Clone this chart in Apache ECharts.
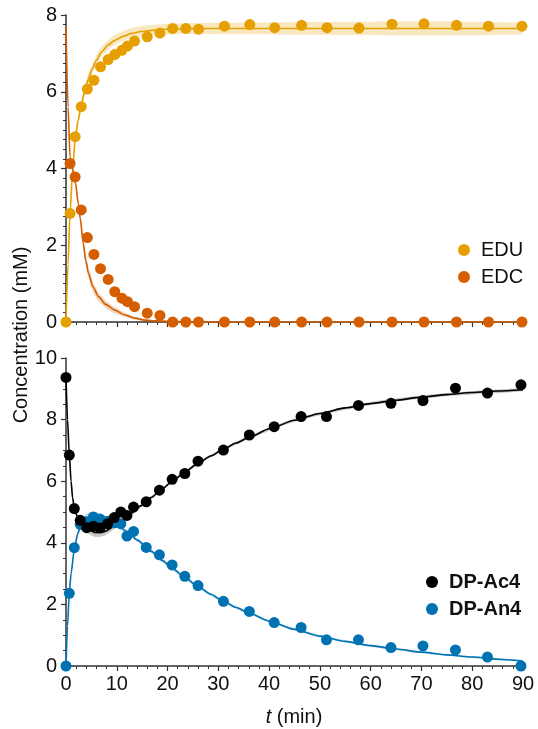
<!DOCTYPE html>
<html>
<head>
<meta charset="utf-8">
<script src="https://cdn.jsdelivr.net/npm/echarts@6/dist/echarts.min.js"></script>
<style>
  html, body { margin: 0; padding: 0; background: #fff; }
  #chart { width: 538px; height: 729px; }
</style>
</head>
<body>
<div id="chart"></div>
<script>
// top panel: EDU / EDC (min, mM)
var topTimes = [0, 0.8, 1.8, 3.0, 4.2, 5.5, 6.8, 8.3, 9.6, 11.0, 12.1, 13.5, 16.0, 18.5, 21.0, 23.6, 26.1, 31.2, 36.2, 41.1, 46.4, 51.4, 57.7, 64.2, 70.5, 76.9, 83.2, 89.8];
var eduVals = [0, 2.83, 4.83, 5.61, 6.07, 6.30, 6.65, 6.84, 6.97, 7.08, 7.19, 7.32, 7.43, 7.53, 7.65, 7.65, 7.63, 7.71, 7.75, 7.67, 7.73, 7.67, 7.66, 7.76, 7.77, 7.73, 7.71, 7.71];
var edcVals = [null, 4.13, 3.78, 2.92, 2.20, 1.76, 1.39, 1.11, 0.79, 0.62, 0.53, 0.40, 0.23, 0.17, 0, 0, 0, 0, 0, 0, 0, 0, 0, 0, 0, 0, 0, 0];
// fitted curves [t, c]
var eduFit = [[0, 0], [0.4, 1.5], [0.8, 2.83], [1.3, 3.95], [1.8, 4.75], [2.4, 5.25], [3.0, 5.65], [3.7, 6.02], [4.4, 6.33], [5.1, 6.58], [6.0, 6.82], [7.0, 7.04], [8.3, 7.22], [9.6, 7.34], [11.2, 7.44], [12.9, 7.52], [14.8, 7.57], [16.9, 7.6], [19.5, 7.63], [22, 7.64], [26, 7.65], [35, 7.65], [90, 7.65]];
var edcFit = [[0, 7.7], [0.4, 5.6], [0.8, 4.3], [1.3, 4.0], [1.9, 3.6], [2.4, 3.1], [2.8, 2.7], [3.4, 2.05], [3.9, 1.6], [4.4, 1.28], [5.3, 0.92], [6.4, 0.66], [7.8, 0.46], [9.6, 0.31], [11.5, 0.19], [13.6, 0.1], [15.5, 0.05], [17.5, 0.03], [22, 0.01], [30, 0], [90, 0]];
// confidence bands [t, low, high]
var eduBand = [[0, 0, 0], [0.8, 2.78, 2.9], [1.8, 4.68, 4.9], [3.0, 5.55, 5.8], [4.4, 6.22, 6.47], [6.0, 6.7, 6.96], [7.0, 6.92, 7.18], [9.6, 7.22, 7.48], [12.9, 7.4, 7.66], [16.9, 7.47, 7.74], [22, 7.5, 7.78], [30, 7.5, 7.8], [90, 7.5, 7.8]];
var edcBand = [[0, 7.7, 7.7], [0.8, 4.25, 4.35], [1.9, 3.5, 3.7], [2.8, 2.55, 2.85], [3.9, 1.45, 1.75], [5.3, 0.78, 1.05], [6.4, 0.54, 0.78], [7.8, 0.36, 0.56], [9.6, 0.22, 0.39], [11.5, 0.13, 0.25], [13.6, 0.06, 0.14], [17.5, 0.01, 0.05], [22, 0, 0.02], [90, 0, 0.01]];

// bottom panel: DP-Ac4 / DP-An4
var botTimes = [0, 0.65, 1.63, 2.8, 4.06, 5.4, 6.7, 8.2, 9.5, 10.8, 12.0, 13.3, 15.8, 18.4, 20.9, 23.4, 26.0, 31.0, 36.1, 41.0, 46.3, 51.3, 57.6, 64.0, 70.3, 76.7, 83.0, 89.6];
var ac4Vals = [9.37, 6.85, 5.11, 4.73, 4.49, 4.54, 4.48, 4.62, 4.82, 5.0, 4.89, 5.16, 5.33, 5.71, 6.06, 6.25, 6.65, 7.01, 7.50, 7.77, 8.10, 8.10, 8.46, 8.53, 8.62, 9.02, 8.86, 9.13];
var an4Vals = [0, 2.36, 3.84, 4.6, 4.68, 4.84, 4.77, 4.7, 4.65, 4.62, 4.22, 4.37, 3.85, 3.61, 3.28, 2.91, 2.61, 2.10, 1.77, 1.41, 1.25, 0.85, 0.85, 0.60, 0.65, 0.52, 0.29, 0.0];
var ac4Fit = [[0, 9.4], [0.3, 8.0], [0.65, 6.88], [1.0, 6.0], [1.3, 5.45], [1.7, 5.1], [2.2, 4.86], [2.7, 4.7], [3.5, 4.53], [4.5, 4.41], [5.9, 4.33], [7.5, 4.36], [9.5, 4.53], [11.0, 4.72], [12.8, 4.95], [14.7, 5.2], [16.8, 5.47], [18.8, 5.73], [20.9, 5.99], [23.4, 6.3], [26, 6.58], [28.5, 6.82], [31, 7.04], [33.5, 7.24], [36, 7.42], [40.2, 7.71], [45, 7.98], [50, 8.2], [55, 8.38], [60, 8.52], [65, 8.63], [70, 8.73], [75, 8.81], [80, 8.88], [85, 8.93], [90, 8.97]];
var an4Fit = [[0, 0], [0.3, 1.3], [0.65, 2.38], [1.0, 3.0], [1.6, 3.75], [2.3, 4.3], [3.0, 4.6], [4.0, 4.8], [5.0, 4.86], [6.0, 4.85], [7.5, 4.77], [9.0, 4.66], [10.5, 4.52], [12.0, 4.36], [14.1, 4.08], [16.8, 3.72], [19, 3.42], [21, 3.16], [23.5, 2.86], [26, 2.58], [28.5, 2.33], [31, 2.1], [33.5, 1.9], [36, 1.72], [40, 1.46], [45, 1.19], [50, 0.97], [55, 0.8], [60, 0.66], [65, 0.55], [70, 0.45], [75, 0.36], [80, 0.29], [85, 0.22], [90, 0.16]];
var ac4Band = [[0, 9.4, 9.4], [0.65, 6.82, 6.95], [1.3, 5.38, 5.52], [2.2, 4.78, 4.96], [3.5, 4.42, 4.66], [4.5, 4.28, 4.56], [5.9, 4.19, 4.48], [7.5, 4.23, 4.5], [9.5, 4.45, 4.62], [12.8, 4.89, 5.01], [16.8, 5.42, 5.53], [20.9, 5.94, 6.04], [26, 6.53, 6.63], [31, 6.99, 7.09], [36, 7.37, 7.47], [45, 7.93, 8.03], [60, 8.47, 8.57], [75, 8.76, 8.86], [90, 8.92, 9.02]];
var an4Band = [[0, 0, 0], [0.65, 2.32, 2.44], [1.6, 3.68, 3.82], [3.0, 4.5, 4.72], [4.0, 4.68, 4.94], [5.0, 4.73, 5.0], [6.0, 4.72, 4.98], [7.5, 4.65, 4.88], [9.0, 4.56, 4.76], [12.0, 4.29, 4.43], [16.8, 3.66, 3.78], [21, 3.1, 3.22], [26, 2.53, 2.63], [31, 2.05, 2.15], [40, 1.42, 1.5], [50, 0.93, 1.01], [60, 0.62, 0.7], [75, 0.33, 0.39], [90, 0.13, 0.19]];

var xTicks = [0, 10, 20, 30, 40, 50, 60, 70, 80, 90];

var colors = {
  edu: '#E69F00',
  edc: '#D55E00',
  ac4: '#000000',
  an4: '#0072B2'
};
var FONT = 'Liberation Sans, Arial, Helvetica, sans-serif';
var axisColor = '#333333';

function pairs(times, vals) {
  var out = [];
  times.forEach(function (t, i) {
    if (vals[i] !== null) out.push([t, vals[i]]);
  });
  return out;
}

function xAxis(gridIndex, showLabels) {
  return {
    gridIndex: gridIndex,
    type: 'value',
    min: 0,
    max: 90,
    interval: 10,
    axisLine: { show: true, onZero: false, lineStyle: { color: axisColor, width: 1.5 } },
    axisTick: { show: true, length: 5, lineStyle: { color: axisColor, width: 1.2 } },
    minorTick: { show: true, splitNumber: 5, length: 3, lineStyle: { color: axisColor, width: 1 } },
    axisLabel: {
      show: showLabels,
      color: '#111',
      fontSize: 20,
      fontFamily: FONT,
      margin: 8,
      formatter: function (v) { return xTicks.indexOf(v) >= 0 ? String(v) : ''; }
    },
    splitLine: { show: false }
  };
}

function yAxis(gridIndex, max, interval, minorSplit) {
  return {
    gridIndex: gridIndex,
    type: 'value',
    min: 0,
    max: max,
    interval: interval,
    axisLine: { show: true, lineStyle: { color: axisColor, width: 1.5 } },
    axisTick: { show: true, length: 5, lineStyle: { color: axisColor, width: 1.2 } },
    minorTick: { show: true, splitNumber: minorSplit, length: 3, lineStyle: { color: axisColor, width: 1 } },
    axisLabel: { color: '#111', fontSize: 20, fontFamily: FONT, margin: 9 },
    splitLine: { show: false }
  };
}

// shaded band: one polygon through the band's upper edge and back along its lower edge
function band(name, data, color, opacity, xi) {
  return {
    name: name + '-band',
    type: 'custom',
    xAxisIndex: xi,
    yAxisIndex: xi,
    data: data,
    silent: true,
    clip: true,
    z: 1,
    encode: { x: 0, y: [1, 2] },
    renderItem: function (params, api) {
      if (params.dataIndex !== 0) return;
      var upper = data.map(function (d) { return api.coord([d[0], d[2]]); });
      var lower = data.map(function (d) { return api.coord([d[0], d[1]]); }).reverse();
      return {
        type: 'polygon',
        shape: { points: upper.concat(lower), smooth: 0.25 },
        style: { fill: color, opacity: opacity, stroke: null }
      };
    }
  };
}

function fit(name, data, color, xi) {
  return {
    name: name + '-fit',
    type: 'line',
    xAxisIndex: xi,
    yAxisIndex: xi,
    data: data,
    smooth: 0.25,
    smoothMonotone: 'x',
    showSymbol: false,
    silent: true,
    z: 2,
    lineStyle: { color: color, width: 1.6 }
  };
}

function dots(name, data, color, xi) {
  return {
    name: name,
    type: 'scatter',
    xAxisIndex: xi,
    yAxisIndex: xi,
    data: data,
    symbol: 'circle',
    symbolSize: 11,
    z: 3,
    itemStyle: { color: color, opacity: 1 }
  };
}

var chart = echarts.init(document.getElementById('chart'), null, { renderer: 'canvas' });

var option = {
  backgroundColor: '#ffffff',
  animation: false,
  grid: [
    { left: 66, right: 15, top: 15, height: 307 },
    { left: 66, right: 15, top: 358, height: 308 }
  ],
  xAxis: [xAxis(0, false), xAxis(1, true)],
  yAxis: [yAxis(0, 8, 2, 8), yAxis(1, 10, 2, 4)],
  legend: [
    {
      data: ['EDU', 'EDC'],
      orient: 'vertical',
      left: 453,
      top: 235,
      itemWidth: 12,
      itemHeight: 12,
      itemGap: 7,
      icon: 'circle',
      textStyle: { fontSize: 20, fontFamily: FONT, color: '#111', lineHeight: 20, padding: [0, 0, 0, 6] }
    },
    {
      data: ['DP-Ac4', 'DP-An4'],
      orient: 'vertical',
      left: 421,
      top: 567,
      itemWidth: 12,
      itemHeight: 12,
      itemGap: 7,
      icon: 'circle',
      textStyle: { fontSize: 20, fontWeight: 'bold', fontFamily: FONT, color: '#111', lineHeight: 20, padding: [0, 0, 0, 6] }
    }
  ],
  graphic: [
    {
      type: 'text',
      rotation: Math.PI / 2,
      x: 21, y: 335,
      style: {
        text: 'Concentration (mM)',
        fontSize: 20,
        fontFamily: FONT,
        fill: '#111',
        align: 'center',
        verticalAlign: 'middle'
      }
    },
    {
      type: 'text',
      x: 294, y: 717,
      style: {
        text: '{i|t} (min)',
        fontSize: 20,
        fontFamily: FONT,
        fill: '#111',
        align: 'center',
        verticalAlign: 'middle',
        rich: { i: { fontStyle: 'italic', fontSize: 20, fontFamily: FONT, fill: '#111' } }
      }
    }
  ],
  series: [
    band('EDU', eduBand, colors.edu, 0.25, 0),
    band('EDC', edcBand, colors.edc, 0.25, 0),
    fit('EDU', eduFit, colors.edu, 0),
    fit('EDC', edcFit, colors.edc, 0),
    dots('EDU', pairs(topTimes, eduVals), colors.edu, 0),
    dots('EDC', pairs(topTimes, edcVals), colors.edc, 0),

    band('DP-Ac4', ac4Band, '#000000', 0.22, 1),
    band('DP-An4', an4Band, colors.an4, 0.22, 1),
    fit('DP-Ac4', ac4Fit, colors.ac4, 1),
    fit('DP-An4', an4Fit, colors.an4, 1),
    dots('DP-An4', pairs(botTimes, an4Vals), colors.an4, 1),
    dots('DP-Ac4', pairs(botTimes, ac4Vals), colors.ac4, 1)
  ]
};

chart.setOption(option);
</script>
</body>
</html>
